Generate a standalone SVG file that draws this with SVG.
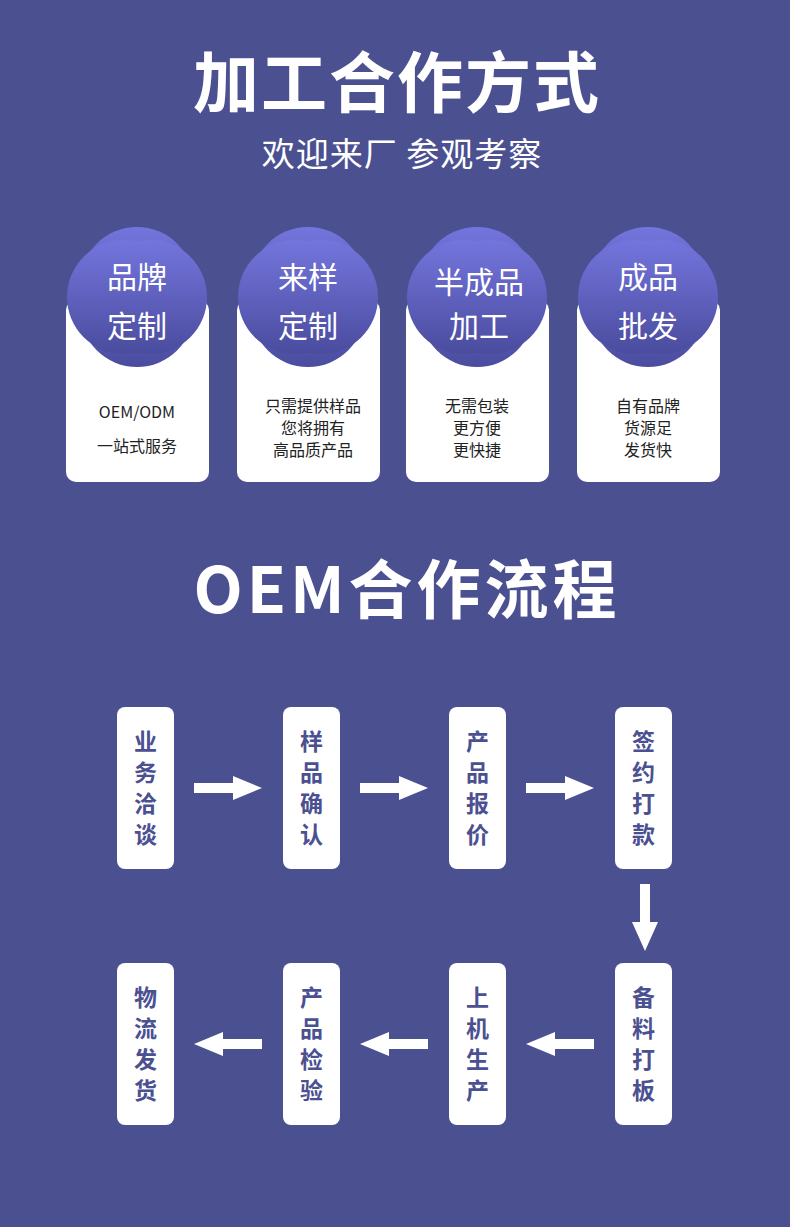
<svg xmlns="http://www.w3.org/2000/svg" width="790" height="1227" viewBox="0 0 790 1227">
<style>
text{font-family:"Noto Sans CJK SC","Noto Sans",sans-serif;text-anchor:middle}
.t{fill:#fff;font-weight:bold}
.c{fill:#fff;font-size:30px}
.d{fill:#222;font-size:16px}
.b{fill:#fff}
.f{fill:#4b5091;font-size:23px;font-weight:bold}
.a{fill:#fff}
</style>
<defs>
<linearGradient id="g" x1="0" y1="0" x2="0" y2="1"><stop offset="0" stop-color="#7475dd"/><stop offset="1" stop-color="#4a4c9e"/></linearGradient>
<g id="cloud"><circle cx="0" cy="-13" r="57"/><circle cx="0" cy="13" r="57"/><circle cx="-13" cy="0" r="57"/><circle cx="13" cy="0" r="57"/></g>
</defs>
<rect width="790" height="1227" fill="#4b5091"/>
<text class="t" x="397" y="107" font-size="66" letter-spacing="2">加工合作方式</text>
<text x="402" y="166" font-size="33" fill="#fff" letter-spacing="1">欢迎来厂  参观考察</text>
<g id="card1"><rect x="66" y="300" width="143" height="182" rx="10" class="b"/><use href="#cloud" x="137" y="297" fill="url(#g)"/><text class="c" x="137" y="288">品牌</text><text class="c" x="137" y="337">定制</text><text class="d" x="137" y="418" font-size="20">OEM/ODM</text><text class="d" x="137" y="452" font-size="20">一站式服务</text></g>
<g id="card2"><rect x="237" y="300" width="143" height="182" rx="10" class="b"/><use href="#cloud" x="308" y="297" fill="url(#g)"/><text class="c" x="308" y="288">来样</text><text class="c" x="308" y="337">定制</text><text class="d" x="313" y="412">只需提供样品</text><text class="d" x="313" y="434">您将拥有</text><text class="d" x="313" y="456">高品质产品</text></g>
<g id="card3"><rect x="406" y="300" width="143" height="182" rx="10" class="b"/><use href="#cloud" x="477" y="297" fill="url(#g)"/><text class="c" x="479" y="293">半成品</text><text class="c" x="479" y="337">加工</text><text class="d" x="477" y="412">无需包装</text><text class="d" x="477" y="434">更方便</text><text class="d" x="477" y="456">更快捷</text></g>
<g id="card4"><rect x="577" y="300" width="143" height="182" rx="10" class="b"/><use href="#cloud" x="648" y="297" fill="url(#g)"/><text class="c" x="648" y="288">成品</text><text class="c" x="648" y="337">批发</text><text class="d" x="648" y="412">自有品牌</text><text class="d" x="648" y="434">货源足</text><text class="d" x="648" y="456">发货快</text></g>
<text class="t" x="407" y="613" font-size="64" letter-spacing="4">OEM合作流程</text>
<g id="s1"><rect x="117" y="707" width="57" height="162" rx="8" class="b"/><text class="f" x="145.500" y="750">业</text><text class="f" x="145.500" y="781">务</text><text class="f" x="145.500" y="812">洽</text><text class="f" x="145.500" y="843">谈</text></g>
<g id="s2"><rect x="283" y="707" width="57" height="162" rx="8" class="b"/><text class="f" x="311.500" y="750">样</text><text class="f" x="311.500" y="781">品</text><text class="f" x="311.500" y="812">确</text><text class="f" x="311.500" y="843">认</text></g>
<g id="s3"><rect x="449" y="707" width="57" height="162" rx="8" class="b"/><text class="f" x="477.500" y="750">产</text><text class="f" x="477.500" y="781">品</text><text class="f" x="477.500" y="812">报</text><text class="f" x="477.500" y="843">价</text></g>
<g id="s4"><rect x="615" y="707" width="57" height="162" rx="8" class="b"/><text class="f" x="643.500" y="750">签</text><text class="f" x="643.500" y="781">约</text><text class="f" x="643.500" y="812">打</text><text class="f" x="643.500" y="843">款</text></g>
<g id="s5"><rect x="615" y="963" width="57" height="162" rx="8" class="b"/><text class="f" x="643.500" y="1006">备</text><text class="f" x="643.500" y="1037">料</text><text class="f" x="643.500" y="1068">打</text><text class="f" x="643.500" y="1099">板</text></g>
<g id="s6"><rect x="449" y="963" width="57" height="162" rx="8" class="b"/><text class="f" x="477.500" y="1006">上</text><text class="f" x="477.500" y="1037">机</text><text class="f" x="477.500" y="1068">生</text><text class="f" x="477.500" y="1099">产</text></g>
<g id="s7"><rect x="283" y="963" width="57" height="162" rx="8" class="b"/><text class="f" x="311.500" y="1006">产</text><text class="f" x="311.500" y="1037">品</text><text class="f" x="311.500" y="1068">检</text><text class="f" x="311.500" y="1099">验</text></g>
<g id="s8"><rect x="117" y="963" width="57" height="162" rx="8" class="b"/><text class="f" x="145.500" y="1006">物</text><text class="f" x="145.500" y="1037">流</text><text class="f" x="145.500" y="1068">发</text><text class="f" x="145.500" y="1099">货</text></g>
<g id="connectors" class="a">
<polygon points="194,783 233,783 233,776 262,788 233,800 233,793 194,793"/>
<polygon points="360,783 399,783 399,776 428,788 399,800 399,793 360,793"/>
<polygon points="526,783 565,783 565,776 594,788 565,800 565,793 526,793"/>
<polygon points="640,884 650,884 650,922 658,922 645,951 632,922 640,922"/>
<polygon points="594,1039 555,1039 555,1032 526,1044 555,1056 555,1049 594,1049"/>
<polygon points="428,1039 389,1039 389,1032 360,1044 389,1056 389,1049 428,1049"/>
<polygon points="262,1039 223,1039 223,1032 194,1044 223,1056 223,1049 262,1049"/>
</g>
</svg>
